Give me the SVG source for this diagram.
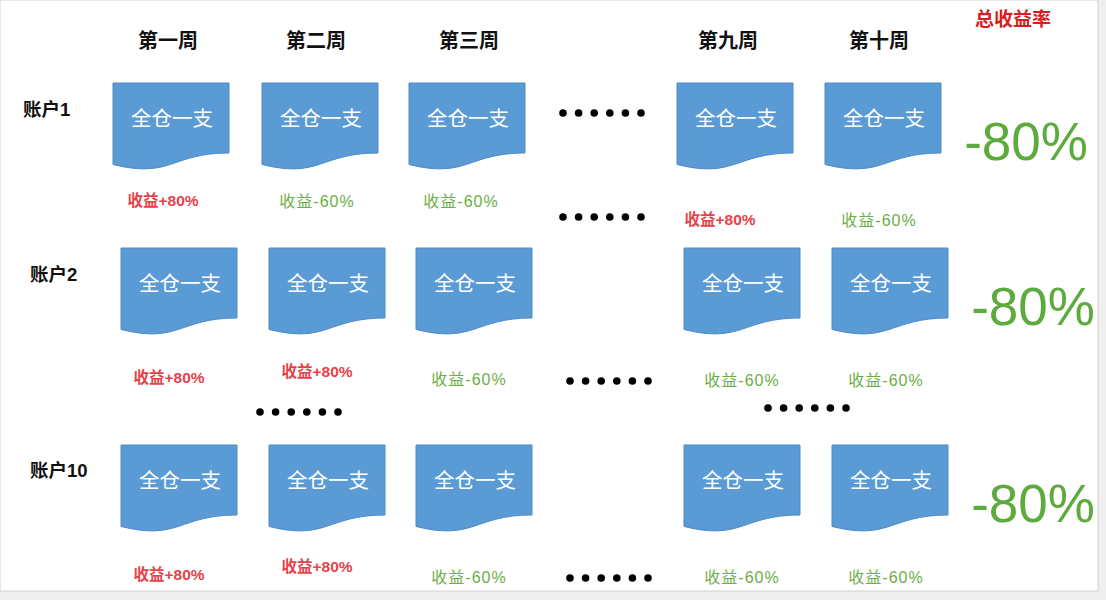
<svg xmlns="http://www.w3.org/2000/svg" width="1106" height="600" viewBox="0 0 1106 600">
<defs>
<style>
.doc{fill:#5B9BD5;stroke:#4E8BC4;stroke-width:1}
.bt{fill:#ffffff;font-family:"Liberation Sans","Noto Sans CJK SC",sans-serif;font-size:20.5px;text-anchor:middle}
.hd{fill:#111111;font-family:"Liberation Sans","Noto Sans CJK SC",sans-serif;font-size:20px;font-weight:bold;text-anchor:middle}
.acc{fill:#111111;font-family:"Liberation Sans","Noto Sans CJK SC",sans-serif;font-size:18.5px;font-weight:bold}
.up{fill:#E8414A;font-family:"Liberation Sans","Noto Sans CJK SC",sans-serif;font-size:15.5px;font-weight:bold;text-anchor:middle}
.dn{fill:#6BAE45;font-family:"Liberation Sans","Noto Sans CJK SC",sans-serif;font-size:16px;letter-spacing:1px;text-anchor:middle}
.big{fill:#5DAA3D;font-family:"Liberation Sans",sans-serif;font-size:53px;text-anchor:middle}
.tot{fill:#D81E1E;font-family:"Liberation Sans","Noto Sans CJK SC",sans-serif;font-size:19px;font-weight:bold;text-anchor:middle}
.dot{fill:#000000}
</style>
<path id="docshape" d="M0,0 H116 V70 C58,70 58,96 0,81.5 Z"/>
<g id="dots6">
<circle cx="0" cy="0" r="3.8"/><circle cx="15.6" cy="0" r="3.8"/><circle cx="31.2" cy="0" r="3.8"/><circle cx="46.8" cy="0" r="3.8"/><circle cx="62.4" cy="0" r="3.8"/><circle cx="78" cy="0" r="3.8"/>
</g>
</defs>
<rect x="0" y="0" width="1106" height="600" fill="#EFEFEF"/>
<rect x="0" y="0" width="1098" height="591" fill="#FFFFFF" stroke="#D0D0D0" stroke-width="1"/>

<g id="headers">
<text class="hd" x="168" y="48">第一周</text>
<text class="hd" x="316" y="48">第二周</text>
<text class="hd" x="469" y="48">第三周</text>
<text class="hd" x="728" y="48">第九周</text>
<text class="hd" x="879" y="48">第十周</text>
<text class="tot" x="1013" y="26">总收益率</text>
</g>

<g id="accounts">
<text class="acc" x="23" y="116">账户1</text>
<text class="acc" x="30" y="281">账户2</text>
<text class="acc" x="30" y="477">账户10</text>
</g>

<g id="row1">
<g id="r1c1"><use href="#docshape" class="doc" x="113" y="83"/><text class="bt" x="172" y="126">全仓一支</text></g>
<g id="r1c2"><use href="#docshape" class="doc" x="262" y="83"/><text class="bt" x="321" y="126">全仓一支</text></g>
<g id="r1c3"><use href="#docshape" class="doc" x="409" y="83"/><text class="bt" x="468" y="126">全仓一支</text></g>
<g id="r1c9"><use href="#docshape" class="doc" x="677" y="83"/><text class="bt" x="736" y="126">全仓一支</text></g>
<g id="r1c10"><use href="#docshape" class="doc" x="825" y="83"/><text class="bt" x="884" y="126">全仓一支</text></g>
</g>

<g id="row2">
<g id="r2c1"><use href="#docshape" class="doc" x="121" y="248"/><text class="bt" x="180" y="291">全仓一支</text></g>
<g id="r2c2"><use href="#docshape" class="doc" x="269" y="248"/><text class="bt" x="328" y="291">全仓一支</text></g>
<g id="r2c3"><use href="#docshape" class="doc" x="416" y="248"/><text class="bt" x="475" y="291">全仓一支</text></g>
<g id="r2c9"><use href="#docshape" class="doc" x="684" y="248"/><text class="bt" x="743" y="291">全仓一支</text></g>
<g id="r2c10"><use href="#docshape" class="doc" x="832" y="248"/><text class="bt" x="891" y="291">全仓一支</text></g>
</g>

<g id="row3">
<g id="r3c1"><use href="#docshape" class="doc" x="121" y="445"/><text class="bt" x="180" y="488">全仓一支</text></g>
<g id="r3c2"><use href="#docshape" class="doc" x="269" y="445"/><text class="bt" x="328" y="488">全仓一支</text></g>
<g id="r3c3"><use href="#docshape" class="doc" x="416" y="445"/><text class="bt" x="475" y="488">全仓一支</text></g>
<g id="r3c9"><use href="#docshape" class="doc" x="684" y="445"/><text class="bt" x="743" y="488">全仓一支</text></g>
<g id="r3c10"><use href="#docshape" class="doc" x="832" y="445"/><text class="bt" x="891" y="488">全仓一支</text></g>
</g>

<g id="returns">
<text class="up" x="163" y="206">收益+80%</text>
<text class="dn" x="317" y="207">收益-60%</text>
<text class="dn" x="461" y="207">收益-60%</text>
<text class="up" x="720" y="225">收益+80%</text>
<text class="dn" x="879" y="226">收益-60%</text>

<text class="up" x="169" y="383">收益+80%</text>
<text class="up" x="317" y="377">收益+80%</text>
<text class="dn" x="469" y="385">收益-60%</text>
<text class="dn" x="742" y="386">收益-60%</text>
<text class="dn" x="886" y="386">收益-60%</text>

<text class="up" x="169" y="580">收益+80%</text>
<text class="up" x="317" y="572">收益+80%</text>
<text class="dn" x="469" y="583">收益-60%</text>
<text class="dn" x="742" y="583">收益-60%</text>
<text class="dn" x="886" y="583">收益-60%</text>
</g>

<g id="totals">
<text class="big" x="1026" y="160">-80%</text>
<text class="big" x="1033" y="325">-80%</text>
<text class="big" x="1033" y="522">-80%</text>
</g>

<g id="ellipses" class="dot">
<use href="#dots6" x="563" y="113"/>
<use href="#dots6" x="563" y="217"/>
<use href="#dots6" x="260" y="412"/>
<use href="#dots6" x="570" y="381"/>
<use href="#dots6" x="768" y="408"/>
<use href="#dots6" x="570" y="578"/>
</g>
</svg>
